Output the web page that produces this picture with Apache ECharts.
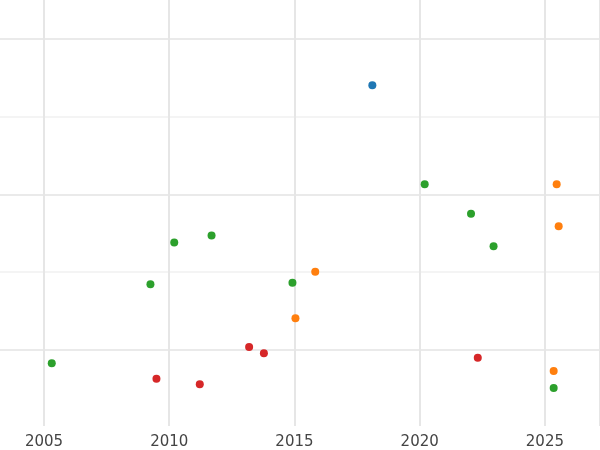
<!DOCTYPE html>
<html><head><meta charset="utf-8">
<script src="https://cdn.jsdelivr.net/npm/echarts@6/dist/echarts.min.js"></script>
<style>html,body{margin:0;padding:0;background:#fff}#main{width:600px;height:450px}</style>
</head><body><div id="main"></div>
<script>
// points: [year, value]
var bluePts = [[2018.11, 4.42]];
var greenPts = [[2005.31, 0.83], [2009.25, 1.85], [2010.20, 2.39], [2011.69, 2.48], [2014.92, 1.87],
  [2020.20, 3.14], [2022.05, 2.76], [2022.95, 2.34], [2025.35, 0.51]];
var orangePts = [[2015.83, 2.01], [2015.04, 1.41], [2025.47, 3.14], [2025.55, 2.60], [2025.35, 0.73]];
var redPts = [[2009.49, 0.63], [2011.22, 0.56], [2013.19, 1.04], [2013.78, 0.96], [2022.32, 0.90]];

var myChart = echarts.init(document.getElementById('main'));
var gridColors = ['rgba(0,0,0,0)', '#e3e3e3', '#f1f1f1', '#e3e3e3', '#f1f1f1', '#e3e3e3'];
function pts(name, data, color) {
  return { name: name, type: 'scatter', xAxisIndex: 1, yAxisIndex: 1, data: data,
    symbolSize: 8, itemStyle: { color: color, opacity: 1 } };
}
option = {
  animation: false,
  grid: [
    { left: 0, right: 0, top: 0, bottom: 22.5 },
    { left: 44, right: -6, top: 0, bottom: 22.5 }
  ],
  xAxis: [
    { gridIndex: 0, type: 'value', show: false, min: 0, max: 1 },
    { gridIndex: 1, type: 'value', min: 2005, max: 2027.2, interval: 5,
      axisLine: { show: false }, axisTick: { show: false },
      axisLabel: { showMaxLabel: false, color: '#444', fontSize: 15, margin: 9, fontFamily: 'DejaVu Sans',
        formatter: function (v) { return String(v); } },
      splitLine: { show: true, lineStyle: { color: '#e6e6e6', width: 2 } } }
  ],
  yAxis: [
    { gridIndex: 0, type: 'value', min: 0, max: 5.5, interval: 1,
      axisLine: { show: false }, axisTick: { show: false }, axisLabel: { show: false },
      splitLine: { show: true, lineStyle: { color: gridColors, width: 1.5 } } },
    { gridIndex: 1, type: 'value', min: 0.02, max: 5.52, show: false,
      splitLine: { show: false } }
  ],
  series: [
    pts('blue', bluePts, '#1f77b4'),
    pts('green', greenPts, '#2ca02c'),
    pts('orange', orangePts, '#ff7f0e'),
    pts('red', redPts, '#d62728')
  ]
};
myChart.setOption(option); window.onresize = myChart.resize;
</script></body></html>
